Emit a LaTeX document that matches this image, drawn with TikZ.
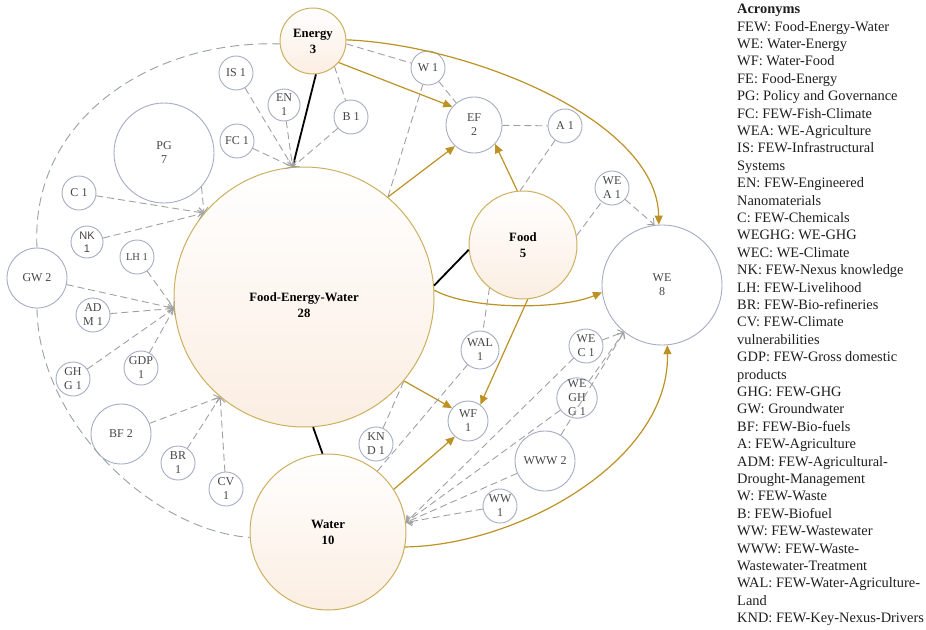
\documentclass[tikz,border=0pt]{standalone}
\usepackage{fontspec}
\setmainfont{Liberation Serif}
\setsansfont{Liberation Sans}
\usetikzlibrary{arrows.meta}
\definecolor{goldline}{RGB}{188,146,36}
\definecolor{goldring}{RGB}{205,175,95}
\definecolor{ringgray}{RGB}{165,172,195}
\definecolor{dashgray}{RGB}{160,160,160}
\definecolor{arcgray}{RGB}{150,162,155}
\definecolor{txtgray}{RGB}{70,70,70}
\definecolor{peach}{RGB}{251,238,226}
\definecolor{legendtxt}{RGB}{30,30,30}
\begin{document}
\begin{tikzpicture}[x=1pt,y=-1pt,
 mainnode/.style={circle, draw=goldring, line width=1pt, top color=white, bottom color=peach, font=\fontsize{12.7}{16}\selectfont\bfseries, align=center, inner sep=0pt},
 subnode/.style={circle, draw=ringgray, line width=0.9pt, fill=white, text=txtgray, font=\fontsize{12}{14}\selectfont, align=center, inner sep=0pt, minimum size=34pt},
 dashline/.style={draw=dashgray, line width=0.9pt, dash pattern=on 7pt off 4pt},
 arcline/.style={draw=arcgray, line width=0.9pt, dash pattern=on 9pt off 5pt},
 dasharrow/.style={dashline, -{Straight Barb[length=5pt,width=9pt]}},
 goldarrow/.style={draw=goldline, line width=1.2pt, -{Triangle[length=9pt,width=8pt]}},
 solidlink/.style={draw=black, line width=1.8pt},
]
\useasboundingbox (0,0) rectangle (926,629);

% main nodes
\node[mainnode, minimum size=260pt, label={[name=fewlabel, align=center, font=\fontsize{12.7}{16}\selectfont\bfseries, yshift=-8pt]center:Food-Energy-Water\\28}] (few) at (304,297) {};
\node[mainnode, minimum size=66pt] (energy) at (313,41) {Energy\\3};
\node[mainnode, minimum size=108pt] (food) at (523,245) {Food\\5};
\node[mainnode, minimum size=156pt] (water) at (328,532) {Water\\10};

% sub nodes
\node[subnode, minimum size=120pt] (we) at (662,285) {WE\\8};
\node[subnode, minimum size=56pt] (ef) at (474,125) {EF\\2};
\node[subnode, minimum size=100pt] (pg) at (164,153) {PG\\7};
\node[subnode, minimum size=60pt] (gw) at (37,278) {GW 2};
\node[subnode, minimum size=60pt] (bf) at (121,434) {BF 2};
\node[subnode, minimum size=60pt] (www) at (545,461) {WWW 2};
\node[subnode, minimum size=40pt] (wf) at (468,421) {WF\\1};
\node[subnode, minimum size=38pt] (wal) at (480,350) {WAL\\1};
\node[subnode] (w1) at (428,68) {W 1};
\node[subnode] (a1) at (565,126) {A 1};
\node[subnode] (wea) at (612,188) {WE\\A 1};
\node[subnode] (b1) at (351,117) {B 1};
\node[subnode] (is) at (236,73) {IS 1};
\node[subnode, minimum size=32pt] (en) at (284,105) {EN\\1};
\node[subnode] (fc) at (237,141) {FC 1};
\node[subnode] (c1) at (79,193) {C 1};
\node[subnode, minimum size=32pt, font=\fontsize{11}{13}\sffamily] (nk) at (87,242) {NK\\1};
\node[subnode, font=\fontsize{10.5}{12}\selectfont] (lh) at (137,257) {LH 1};
\node[subnode] (adm) at (93,315) {AD\\M 1};
\node[subnode] (ghg) at (73,379) {GH\\G 1};
\node[subnode] (gdp) at (141,368) {GDP\\1};
\node[subnode] (br) at (178,463) {BR\\1};
\node[subnode] (cv) at (226,489) {CV\\1};
\node[subnode] (knd) at (376,444) {KN\\D 1};
\node[subnode] (wec) at (586,346) {WE\\C 1};
\node[subnode] (weghg) at (577,398) {WE\\GH\\G 1};
\node[subnode] (ww) at (500,506) {WW\\1};

% solid black links
\draw[solidlink] (energy.275) -- (few.95);
\draw[solidlink] (food.185) -- (few.5);
\draw[solidlink] (few.274) -- (water.94);

% gold arrows
\draw[goldarrow] (energy.320) -- (ef.140);
\draw[goldarrow] (few.50) -- (ef.228);
\draw[goldarrow] (food.96) -- (ef.318);
\draw[goldarrow] (energy.2) .. controls (470,45) and (657,120) .. (we.93);
\draw[goldarrow] (few.3) .. controls (470,310) and (560,310) .. (we.187);
\draw[goldarrow] (water.349) .. controls (520,545) and (670,460) .. (we.275);
\draw[goldarrow] (food.275) -- (wf.53);
\draw[goldarrow] (few.320) -- (wf.141);
\draw[goldarrow] (water.33) -- (wf.230);

% dashed outer arcs
\draw[arcline] (gw.90) .. controls (30,120) and (150,40) .. (energy.185);
\draw[arcline] (gw.270) .. controls (38,420) and (150,530) .. (water.184);

% dashed links
\draw[dasharrow] (is) -- (few.95);
\draw[dasharrow] (en) -- (few.95);
\draw[dasharrow] (fc) -- (few.95);
\draw[dasharrow] (b1) -- (few.95);
\draw[dashline] (energy.310) -- (b1);
\draw[dashline] (energy.355) -- (w1);
\draw[dashline] (w1) -- (ef);
\draw[dashline] (w1) -- (few.50);
\draw[dashline] (ef) -- (a1);
\draw[dashline] (a1) -- (food.93);
\draw[dashline] (food.10) -- (wea);
\draw[dasharrow] (wea) -- (we.97);
\draw[dasharrow] (pg.318) -- (few.140);
\draw[dasharrow] (c1) -- (few.140);
\draw[dasharrow] (nk) -- (few.140);
\draw[dasharrow] (lh) -- (few.185);
\draw[dasharrow] (gw) -- (few.185);
\draw[dasharrow] (adm) -- (few.185);
\draw[dasharrow] (ghg) -- (few.185);
\draw[dasharrow] (gdp) -- (few.185);
\draw[dasharrow] (bf) -- (few.230);
\draw[dasharrow] (br) -- (few.230);
\draw[dasharrow] (cv) -- (few.230);
\draw[dashline] (knd) -- (few.320);
\draw[dashline] (food.232) -- (wal);
\draw[dashline] (wal) -- (water.51);
\draw[dasharrow] (wec) -- (water.7);
\draw[dasharrow] (weghg) -- (water.7);
\draw[dasharrow] (www) -- (water.7);
\draw[dasharrow] (ww) -- (water.7);
\draw[dasharrow] (wec) -- (we.231);
\draw[dasharrow] (weghg) -- (we.231);
\draw[dasharrow] (www) -- (we.231);

% legend
\node[anchor=north west, inner sep=0pt, align=left, text=legendtxt, font=\fontsize{14.4}{17.4}\selectfont] (legend) at (737,4) {\textbf{Acronyms}\\
FEW: Food-Energy-Water\\
WE: Water-Energy\\
WF: Water-Food\\
FE: Food-Energy\\
PG: Policy and Governance\\
FC: FEW-Fish-Climate\\
WEA: WE-Agriculture\\
IS: FEW-Infrastructural\\
Systems\\
EN: FEW-Engineered\\
Nanomaterials\\
C: FEW-Chemicals\\
WEGHG: WE-GHG\\
WEC: WE-Climate\\
NK: FEW-Nexus knowledge\\
LH: FEW-Livelihood\\
BR: FEW-Bio-refineries\\
CV: FEW-Climate\\
vulnerabilities\\
GDP: FEW-Gross domestic\\
products\\
GHG: FEW-GHG\\
GW: Groundwater\\
BF: FEW-Bio-fuels\\
A: FEW-Agriculture\\
ADM: FEW-Agricultural-\\
Drought-Management\\
W: FEW-Waste\\
B: FEW-Biofuel\\
WW: FEW-Wastewater\\
WWW: FEW-Waste-\\
Wastewater-Treatment\\
WAL: FEW-Water-Agriculture-\\
Land\\
KND: FEW-Key-Nexus-Drivers};
\end{tikzpicture}
\end{document}
